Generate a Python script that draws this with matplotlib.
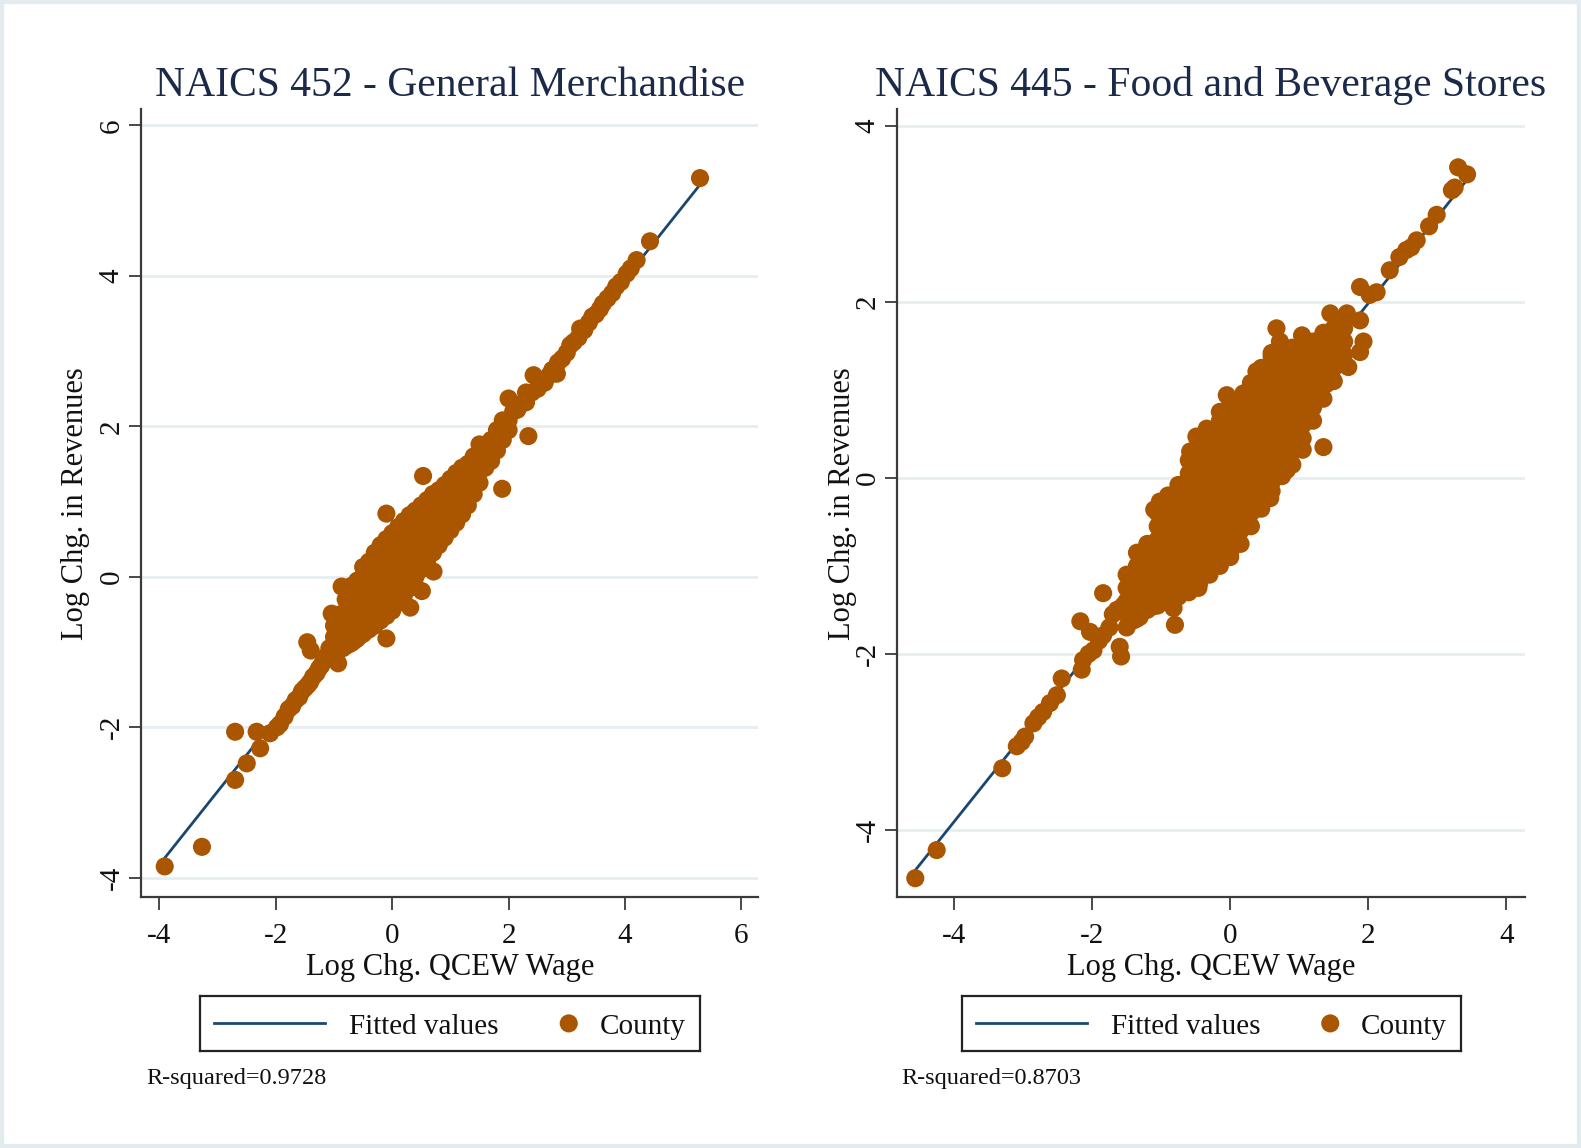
import numpy as np
import matplotlib
matplotlib.use("Agg")
import matplotlib.pyplot as plt

plt.rcParams['font.family'] = ['Liberation Serif', 'DejaVu Serif']

# ---------------- data ----------------
titles = ["NAICS 452 - General Merchandise", "NAICS 445 - Food and Beverage Stores"]
x_label = "Log Chg. QCEW Wage"
y_label = "Log Chg. in Revenues"
r_squared = ["R-squared=0.9728", "R-squared=0.8703"]
legend_labels = ["Fitted values", "County"]

gm_xticks = [-4, -2, 0, 2, 4, 6]
gm_yticks = [-4, -2, 0, 2, 4, 6]
fb_xticks = [-4, -2, 0, 2, 4]
fb_yticks = [-4, -2, 0, 2, 4]

# NAICS 452 -- scattered counties (x, y)
gm_points = [
    (-3.91, -3.85), (-3.27, -3.59), (-2.70, -2.70), (-2.50, -2.48), (-2.70, -2.06),
    (-2.33, -2.06), (-2.27, -2.28), (-2.10, -2.08), (-1.98, -2.00), (-1.93, -1.96),
    (-1.85, -1.86), (-1.78, -1.76), (-1.72, -1.72), (-1.66, -1.64), (-1.60, -1.60),
    (-1.55, -1.52), (-1.50, -1.48), (-1.45, -1.44), (-1.41, -1.40), (-1.36, -1.33),
    (-1.30, -1.28), (-1.26, -1.22), (-1.22, -1.18), (-1.18, -1.12), (-1.46, -0.87),
    (-1.40, -0.98), (-0.93, -1.15), (-1.12, -1.05), (-1.08, -0.95), (-1.04, -0.49),
    (-0.87, -0.13), (-0.10, -0.82), (-0.10, 0.84), (0.53, 1.34), (0.51, -0.19),
    (0.31, -0.41), (0.71, 0.07), (1.89, 1.17), (2.34, 1.87), (2.00, 2.37),
    (2.08, 2.20), (2.15, 2.22), (2.22, 2.30), (2.30, 2.32), (2.30, 2.45),
    (2.43, 2.68), (2.40, 2.45), (2.50, 2.50), (2.55, 2.60), (2.62, 2.58),
    (2.70, 2.68), (2.75, 2.75), (2.83, 2.70), (2.85, 2.85), (2.92, 2.90),
    (3.00, 2.98), (3.06, 3.08), (3.12, 3.12), (3.20, 3.18), (3.23, 3.30),
    (3.30, 3.28), (3.38, 3.38), (3.44, 3.46), (3.50, 3.49), (3.57, 3.56),
    (3.62, 3.63), (3.70, 3.70), (3.78, 3.77), (3.85, 3.86), (3.93, 3.92),
    (4.03, 4.03), (4.10, 4.10), (4.20, 4.21), (4.43, 4.46), (5.29, 5.30),
]
# NAICS 452 -- dense core, one column of y values per x
gm_core = [
    (-1.00, [-0.95, -0.80, -0.65]),
    (-0.90, [-0.95, -0.80, -0.65, -0.50]),
    (-0.80, [-0.92, -0.78, -0.62, -0.46, -0.30]),
    (-0.70, [-0.88, -0.72, -0.56, -0.40, -0.25, -0.12]),
    (-0.60, [-0.82, -0.66, -0.50, -0.35, -0.20, -0.05]),
    (-0.50, [-0.76, -0.60, -0.45, -0.30, -0.15, 0.00, 0.13]),
    (-0.40, [-0.70, -0.55, -0.40, -0.25, -0.10, 0.05, 0.20]),
    (-0.30, [-0.65, -0.50, -0.35, -0.20, -0.05, 0.10, 0.25, 0.32]),
    (-0.20, [-0.58, -0.43, -0.28, -0.13, 0.02, 0.17, 0.32, 0.42]),
    (-0.10, [-0.52, -0.37, -0.22, -0.07, 0.08, 0.23, 0.38, 0.50]),
    (0.00, [-0.45, -0.30, -0.15, 0.00, 0.15, 0.30, 0.45, 0.58]),
    (0.10, [-0.35, -0.20, -0.05, 0.10, 0.25, 0.40, 0.55, 0.66]),
    (0.20, [-0.25, -0.10, 0.05, 0.20, 0.35, 0.50, 0.62, 0.74]),
    (0.30, [-0.15, 0.00, 0.15, 0.30, 0.45, 0.60, 0.72, 0.82]),
    (0.40, [0.00, 0.15, 0.30, 0.45, 0.60, 0.75, 0.88]),
    (0.50, [0.10, 0.25, 0.40, 0.55, 0.70, 0.85, 0.95]),
    (0.60, [0.20, 0.35, 0.50, 0.65, 0.80, 0.92, 1.02]),
    (0.70, [0.32, 0.47, 0.62, 0.77, 0.92, 1.05, 1.10]),
    (0.80, [0.42, 0.57, 0.72, 0.87, 1.02, 1.15]),
    (0.90, [0.52, 0.67, 0.82, 0.97, 1.12, 1.22]),
    (1.00, [0.62, 0.77, 0.92, 1.07, 1.22, 1.30]),
    (1.10, [0.72, 0.87, 1.02, 1.17, 1.32, 1.38]),
    (1.20, [0.83, 0.98, 1.13, 1.28, 1.45]),
    (1.30, [0.95, 1.10, 1.25, 1.40, 1.50]),
    (1.40, [1.10, 1.25, 1.40, 1.55, 1.60]),
    (1.50, [1.25, 1.40, 1.55, 1.76]),
    (1.60, [1.45, 1.58, 1.72]),
    (1.70, [1.54, 1.68, 1.82]),
    (1.80, [1.68, 1.82, 1.95]),
    (1.90, [1.82, 1.95, 2.08]),
    (2.00, [1.95, 2.08]),
]
# NAICS 452 -- overlapping counties hidden inside the dense core
gm_hidden = [
    (-0.85, -0.95), (-0.75, -0.90), (-0.65, -0.85), (-0.55, -0.78), (-0.45, -0.72),
    (-0.35, -0.66), (-0.25, -0.60), (1.05, 1.28), (1.15, 1.36), (1.25, 1.44),
    (1.35, 1.50), (1.45, 1.58), (1.55, 1.68), (1.65, 1.76),
]

# NAICS 445 -- scattered counties (x, y)
fb_points = [
    (-4.56, -4.55), (-4.25, -4.23), (-3.30, -3.30), (-3.09, -3.05), (-3.02, -3.00),
    (-2.97, -2.94), (-2.85, -2.79), (-2.78, -2.72), (-2.71, -2.66), (-2.61, -2.56),
    (-2.51, -2.47), (-2.44, -2.28), (-2.15, -2.18), (-2.13, -2.07), (-2.05, -2.00),
    (-1.98, -1.96), (-2.17, -1.63), (-2.03, -1.75), (-1.90, -1.85), (-1.84, -1.79),
    (-1.75, -1.70), (-1.70, -1.55), (-1.60, -1.92), (-1.58, -2.03), (-1.84, -1.31),
    (-1.64, -1.50), (-1.55, -1.45), (-1.45, -1.16), (-1.31, -1.58), (-1.26, -1.31),
    (-1.11, -1.46), (-0.82, -1.35), (-0.82, -1.48), (-0.80, -1.67), (-0.46, -1.25),
    (-1.21, -0.86), (-1.10, -0.36), (-1.02, -0.27), (-0.75, -0.08), (-0.58, 0.30),
    (-0.49, 0.47), (-0.34, 0.56), (-0.05, 0.94), (0.19, 0.96), (0.38, 1.21),
    (0.67, 1.70), (0.72, 1.55), (1.04, 1.62), (0.82, 1.36), (0.58, -0.23),
    (0.82, 0.09), (1.35, 0.35), (1.40, 1.07), (1.45, 1.87), (1.69, 1.87),
    (1.71, 1.26), (1.88, 1.43), (1.93, 1.55), (1.88, 1.79), (1.88, 2.17),
    (2.02, 2.08), (2.12, 2.11), (2.31, 2.36), (2.45, 2.51), (2.55, 2.59),
    (2.62, 2.62), (2.70, 2.70), (2.88, 2.86), (2.99, 2.99), (3.21, 3.27),
    (3.25, 3.30), (3.30, 3.53), (3.43, 3.45),
]
# NAICS 445 -- dense core, one column of y values per x
fb_core = [
    (-1.50, [-1.70, -1.55, -1.40, -1.25, -1.10]),
    (-1.35, [-1.60, -1.45, -1.30, -1.15, -1.00, -0.85]),
    (-1.20, [-1.50, -1.35, -1.20, -1.05, -0.90, -0.75]),
    (-1.05, [-1.45, -1.30, -1.15, -1.00, -0.85, -0.70, -0.55, -0.40]),
    (-0.90, [-1.40, -1.25, -1.10, -0.95, -0.80, -0.65, -0.50, -0.35, -0.20]),
    (-0.75, [-1.35, -1.20, -1.05, -0.90, -0.75, -0.60, -0.45, -0.30, -0.15]),
    (-0.60, [-1.30, -1.15, -1.00, -0.85, -0.70, -0.55, -0.40, -0.25, -0.10, 0.05, 0.20]),
    (-0.45, [-1.20, -1.05, -0.90, -0.75, -0.60, -0.45, -0.30, -0.15, 0.00, 0.15, 0.30, 0.42]),
    (-0.30, [-1.10, -0.95, -0.80, -0.65, -0.50, -0.35, -0.20, -0.05, 0.10, 0.25, 0.40, 0.52]),
    (-0.15, [-1.00, -0.85, -0.70, -0.55, -0.40, -0.25, -0.10, 0.05, 0.20, 0.35, 0.50, 0.65, 0.75]),
    (0.00, [-0.90, -0.75, -0.60, -0.45, -0.30, -0.15, 0.00, 0.15, 0.30, 0.45, 0.60, 0.75, 0.88]),
    (0.15, [-0.75, -0.60, -0.45, -0.30, -0.15, 0.00, 0.15, 0.30, 0.45, 0.60, 0.75, 0.90]),
    (0.30, [-0.55, -0.40, -0.25, -0.10, 0.05, 0.20, 0.35, 0.50, 0.65, 0.80, 0.95, 1.08]),
    (0.45, [-0.35, -0.20, -0.05, 0.10, 0.25, 0.40, 0.55, 0.70, 0.85, 1.00, 1.15, 1.25]),
    (0.60, [-0.15, -0.05, 0.10, 0.25, 0.40, 0.55, 0.70, 0.85, 1.00, 1.15, 1.30, 1.42]),
    (0.75, [0.02, 0.15, 0.30, 0.45, 0.60, 0.75, 0.90, 1.05, 1.20, 1.35, 1.45]),
    (0.90, [0.15, 0.30, 0.45, 0.60, 0.75, 0.90, 1.05, 1.20, 1.35, 1.48]),
    (1.05, [0.32, 0.45, 0.60, 0.75, 0.90, 1.05, 1.20, 1.35, 1.50]),
    (1.20, [0.65, 0.80, 0.95, 1.10, 1.25, 1.40, 1.55]),
    (1.35, [0.90, 1.05, 1.20, 1.35, 1.50, 1.65]),
    (1.50, [1.10, 1.25, 1.40, 1.55, 1.70]),
    (1.65, [1.40, 1.55, 1.70, 1.80]),
]
# NAICS 445 -- overlapping counties hidden inside the dense core
fb_hidden = [
    (-1.40, -1.62), (-1.20, -1.48), (-1.05, -1.42), (-0.90, -1.36), (-0.75, -1.30),
    (-0.60, -1.25), (-0.45, -1.15), (-0.30, -1.05), (-0.15, -0.95), (0.00, -0.85),
    (0.60, 1.38), (0.75, 1.42), (0.90, 1.45), (1.05, 1.48), (1.20, 1.52),
    (1.35, 1.62), (1.50, 1.68), (0.45, 1.22),
]

# ---------------- styling ----------------
DOT = '#aa5500'
FIT = '#1a476f'
GRID = '#e6eef1'
AX = '#3a3a3a'
TITLE_C = '#1c2a4a'

W, H = 1581, 1148
fig = plt.figure(figsize=(W / 100, H / 100), dpi=100)
fig.patch.set_facecolor('white')


def expand(points, core, hidden):
    xs = [p[0] for p in points] + [p[0] for p in hidden]
    ys = [p[1] for p in points] + [p[1] for p in hidden]
    for cx, col in core:
        for cy in col:
            xs.append(cx)
            ys.append(cy)
    return np.array(xs), np.array(ys)


panels = [
    dict(pts=gm_points, core=gm_core, hid=gm_hidden, title=titles[0], xt=gm_xticks, yt=gm_yticks,
         rect=[141.2, 758.2], xlim=(-4.314, 6.29), ylim=(-4.262, 6.22), r2=r_squared[0],
         ylab_x=-0.106, leg=(199.6, 699.8), r2x=146.2),
    dict(pts=fb_points, core=fb_core, hid=fb_hidden, title=titles[1], xt=fb_xticks, yt=fb_yticks,
         rect=[897.4, 1524.6], xlim=(-4.819, 4.263), ylim=(-4.768, 4.194), r2=r_squared[1],
         ylab_x=-0.088, leg=(962.0, 1461.0), r2x=901.4),
]

top_px, bot_px = 108.9, 897.4
for p in panels:
    l, r = p['rect']
    ax = fig.add_axes([l / W, 1 - bot_px / H, (r - l) / W, (bot_px - top_px) / H])
    x, y = expand(p['pts'], p['core'], p['hid'])
    slope, icpt = np.polyfit(x, y, 1)
    xs = np.array([x.min(), x.max()])
    ax.scatter(x, y, s=170, color=DOT, edgecolors='none', zorder=3)
    ax.plot(xs, icpt + slope * xs, color=FIT, lw=2.0, zorder=2)
    ax.set_xlim(*p['xlim'])
    ax.set_ylim(*p['ylim'])
    ax.set_xticks(p['xt'])
    ax.set_yticks(p['yt'])
    ax.set_xticklabels([str(v) for v in p['xt']], fontsize=21)
    ax.set_yticklabels([str(v) for v in p['yt']], fontsize=21, rotation=90, va='center')
    ax.tick_params(axis='both', direction='out', length=9, width=1.3, color=AX, labelcolor='#111111')
    ax.tick_params(axis='y', pad=3)
    ax.tick_params(axis='x', pad=9.5)
    for s in ['top', 'right']:
        ax.spines[s].set_visible(False)
    for s in ['left', 'bottom']:
        ax.spines[s].set_color(AX)
        ax.spines[s].set_linewidth(1.6)
    ax.yaxis.grid(True, color=GRID, lw=2.0, zorder=0)
    ax.set_axisbelow(True)
    ax.set_title(p['title'], fontsize=30, color=TITLE_C, pad=9.5)
    ax.set_xlabel(x_label, fontsize=22, color='#111111')
    ax.xaxis.set_label_coords(0.5, -(968 - bot_px) / (bot_px - top_px))
    ax.xaxis.label.set_va('center')
    ax.set_ylabel(y_label, fontsize=22, color='#111111')
    ax.yaxis.set_label_coords(p['ylab_x'], 0.5)
    ax.yaxis.label.set_va('center')

    # legend box
    lx0, lx1 = p['leg']
    ly0, ly1 = 996.2, 1050.6
    lax = fig.add_axes([lx0 / W, 1 - ly1 / H, (lx1 - lx0) / W, (ly1 - ly0) / H])
    lax.set_xlim(0, 1)
    lax.set_ylim(0, 1)
    lax.set_xticks([])
    lax.set_yticks([])
    for s in lax.spines.values():
        s.set_color('#222222')
        s.set_linewidth(1.6)
    lax.plot([0.028, 0.250], [0.5, 0.5], color=FIT, lw=2.0)
    lax.text(0.298, 0.44, legend_labels[0], fontsize=21, va='center', ha='left', color='#111111')
    lax.scatter([0.738], [0.5], s=170, color=DOT, edgecolors='none')
    lax.text(0.80, 0.44, legend_labels[1], fontsize=21, va='center', ha='left', color='#111111')

    fig.text(p['r2x'] / W, 1 - 1078.9 / H, p['r2'], fontsize=17.5, va='center', ha='left', color='#111111')

# faint outer frame like the source image
fig.patches.append(matplotlib.patches.Rectangle((0, 0), 1, 1, transform=fig.transFigure,
                                                fill=False, edgecolor='#e4ebee', lw=6))

fig.savefig('out.png', dpi=100)
